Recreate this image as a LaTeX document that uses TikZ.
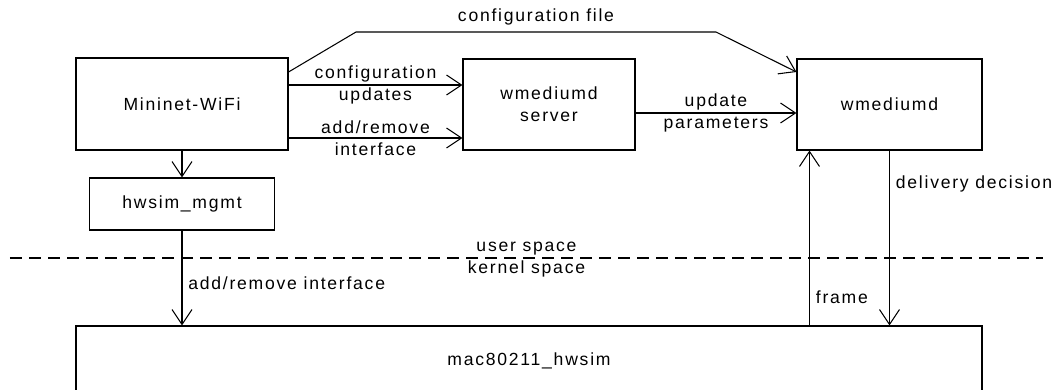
\documentclass[tikz,border=0pt]{standalone}
\usepackage{fontspec}
\setmainfont[LetterSpace=10]{Liberation Sans}
\usepackage{tikz}
\usetikzlibrary{arrows.meta, positioning}

\begin{document}
\begin{tikzpicture}[every node/.style={font=\fontsize{10}{12.5}\selectfont},
  box/.style={draw, line width=0.6pt, inner sep=0pt},
  pfeil/.style={-{Straight Barb[length=3mm, width=4mm]}, line width=0.6pt}]
\useasboundingbox (0,0) rectangle (21.1,7.78);

% Kästen
\node[box, minimum width=4.24cm, minimum height=1.84cm] (mininet) at (3.64,5.7) {Mininet-WiFi};
\node[box, minimum width=3.44cm, minimum height=1.82cm, align=center] (server) at (10.98,5.69) {wmediumd\\server};
\node[box, minimum width=3.7cm, minimum height=1.82cm] (wmediumd) at (17.79,5.69) {wmediumd};
\node[box, minimum width=3.7cm, minimum height=1.04cm] (mgmt) at (3.64,3.7) {hwsim\_mgmt};
\node[box, minimum width=18.12cm, minimum height=1.44cm, text depth=0.12cm] (hwsim) at (10.58,0.54) {mac80211\_hwsim};

% Hilfspunkte
\coordinate (k1) at (7.12,7.14);
\coordinate (k2) at (14.32,7.14);
\coordinate (gl) at (0.2,2.62);
\coordinate (gr) at (20.86,2.62);
\coordinate (frameoben) at ([xshift=0.26cm]wmediumd.south west);

% Pfeile im User Space
\draw[pfeil] ([yshift=0.64cm]mininet.east) -- (k1) -- node[above] {configuration file} (k2) -- ([yshift=0.65cm]wmediumd.west);
\draw[pfeil] ([yshift=0.38cm]mininet.east) -- node[align=center] {configuration\\updates} ([yshift=0.38cm]mininet.east -| server.west);
\draw[pfeil] ([yshift=-0.68cm]mininet.east) -- node[align=center] {add/remove\\interface} ([yshift=-0.68cm]mininet.east -| server.west);
\draw[pfeil] ([yshift=-0.17cm]server.east) -- node[align=center] {update\\parameters} ([yshift=-0.17cm]server.east -| wmediumd.west);
\draw[pfeil] (mininet.south) -- (mininet.south |- mgmt.north);

% Grenze User/Kernel
\draw[dash pattern=on 0.24cm off 0.14cm, line width=0.6pt] (gl) -- node[above, inner sep=1.5pt] {user space} node[below, inner sep=1pt] {kernel space} (gr);

% Pfeile zum Kernel
\draw[pfeil] (mgmt.south) -- node[right, pos=0.55] {add/remove interface} (mgmt.south |- hwsim.north);
\draw[pfeil] (wmediumd.south) -- node[right, pos=0.19] {delivery decision} (wmediumd.south |- hwsim.north);
\draw[pfeil] (frameoben |- hwsim.north) -- node[right, pos=0.16] {frame} (frameoben);

\end{tikzpicture}
\end{document}
